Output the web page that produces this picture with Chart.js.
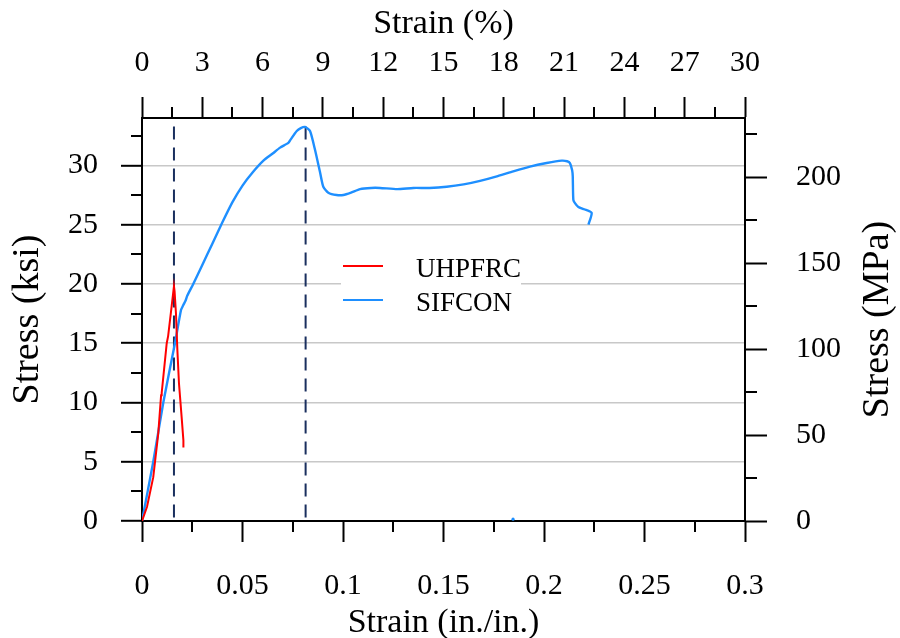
<!DOCTYPE html>
<html><head><meta charset="utf-8">
<script src="https://cdn.jsdelivr.net/npm/chart.js@4"></script>
<style>html,body{margin:0;padding:0;background:#fff}#wrap{width:900px;height:638px;position:relative}</style>
</head><body><div id="wrap"><canvas id="c"></canvas></div>
<script>
// ---- data (strain in in./in., stress in ksi) ----
const seriesLabels = ['UHPFRC', 'SIFCON'];
const uhpfrcStrain = [0, 0.0025, 0.0056, 0.0081, 0.0095, 0.0098, 0.0123, 0.0130, 0.0148, 0.0159, 0.0162, 0.0169, 0.0176, 0.0184, 0.0197, 0.0206, 0.0206];
const uhpfrcStress = [0, 1.2, 3.7, 7.4, 10.6, 10.8, 15.0, 15.6, 18.2, 19.8, 19.4, 17.5, 14.4, 11.6, 8.8, 6.8, 6.2];
const sifconStrain = [0, 0.0056, 0.0106, 0.0164, 0.0194, 0.0205, 0.0217, 0.0225, 0.0255, 0.0300, 0.0350, 0.0400, 0.0450, 0.0500, 0.0550, 0.0604, 0.0650, 0.0687, 0.0728, 0.0740, 0.0770, 0.0790, 0.0811, 0.0836, 0.0861, 0.0886, 0.0902, 0.0927, 0.0968, 0.1002, 0.1040, 0.1085, 0.1140, 0.1184, 0.1270, 0.1350, 0.1430, 0.1516, 0.1600, 0.1682, 0.1770, 0.1847, 0.1930, 0.2013, 0.2088, 0.2115, 0.2129, 0.2140, 0.2143, 0.2146, 0.2155, 0.2171, 0.2200, 0.2237, 0.2221];
const sifconStress = [0, 5.0, 10.0, 15.0, 17.8, 18.2, 18.6, 19.0, 20.0, 21.6, 23.4, 25.2, 26.9, 28.3, 29.4, 30.4, 31.0, 31.5, 31.9, 32.2, 32.9, 33.15, 33.25, 32.9, 31.3, 29.4, 28.2, 27.7, 27.5, 27.5, 27.7, 28.0, 28.1, 28.1, 28.0, 28.1, 28.1, 28.2, 28.4, 28.7, 29.1, 29.5, 29.9, 30.2, 30.4, 30.35, 30.2, 29.6, 29.1, 27.1, 26.8, 26.5, 26.3, 26.0, 25.0];
const strayStrain = [0.1846];
const strayStress = [0.15];
const peakStrains = [0.0159, 0.0814];
const peakLineStress = [0.3, 33.9];
const bottomTickLabels = ['0', '0.05', '0.1', '0.15', '0.2', '0.25', '0.3'];
const topTickLabels = ['0', '3', '6', '9', '12', '15', '18', '21', '24', '27', '30'];
const leftTickLabels = ['0', '5', '10', '15', '20', '25', '30'];
const rightTickLabels = ['0', '50', '100', '150', '200'];
const KSI_TO_MPA = 6.89476;
const yMaxKsi = 34;

const FONT = '"Liberation Serif", "Times New Roman", serif';
const pts = (xs, ys) => xs.map((x, i) => ({x: x, y: ys[i]}));

const datasets = [
  {label: seriesLabels[0], data: pts(uhpfrcStrain, uhpfrcStress), borderColor: '#ff0000', borderWidth: 2, pointRadius: 0, tension: 0, fill: false},
  {label: seriesLabels[1], data: pts(sifconStrain, sifconStress), borderColor: '#1e8fff', borderWidth: 2.4, pointRadius: 0, tension: 0.2, fill: false},
  {label: 'stray', data: pts(strayStrain, strayStress), showLine: false, pointRadius: 1.6, pointBackgroundColor: '#1e8fff', pointBorderWidth: 0, borderColor: '#1e8fff'}
];
peakStrains.forEach(function (s) {
  datasets.push({label: 'peak', data: pts([s, s], peakLineStress), borderColor: '#1a2f5e', borderWidth: 2, borderDash: [13, 8], pointRadius: 0, fill: false});
});

const tickFont = {family: FONT, size: 30};
const blackGrid = {drawOnChartArea: false, drawTicks: true, tickLength: 21, tickColor: '#000', tickWidth: 2, color: '#000'};
const blackBorder = {display: true, color: '#000', width: 2};

const extras = {
  id: 'extras',
  beforeDatasetsDraw(chart) {
    const ctx = chart.ctx;
    ctx.save();
    ctx.fillStyle = '#fff';
    ctx.fillRect(341, 250, 180, 66);
    ctx.restore();
  },
  afterDatasetsDraw(chart) {
    const ctx = chart.ctx;
    const s = chart.scales;
    const a = chart.chartArea;
    ctx.save();
    ctx.strokeStyle = '#000';
    ctx.lineWidth = 2;
    ctx.beginPath();
    for (let v = 0.025; v < 0.3; v += 0.05) { const p = Math.round(s.x.getPixelForValue(v)); ctx.moveTo(p, a.bottom); ctx.lineTo(p, a.bottom + 11); }
    for (let v = 1.5; v < 30; v += 3) { const p = Math.round(s.x2.getPixelForValue(v)); ctx.moveTo(p, a.top); ctx.lineTo(p, a.top - 11); }
    for (let v = 2.5; v < yMaxKsi; v += 5) { const p = Math.round(s.y.getPixelForValue(v)); ctx.moveTo(a.left, p); ctx.lineTo(a.left - 11, p); }
    for (let v = 25; v < yMaxKsi * KSI_TO_MPA; v += 50) { const p = Math.round(s.y2.getPixelForValue(v)); ctx.moveTo(a.right, p); ctx.lineTo(a.right + 12, p); }
    ctx.stroke();
    // legend
    [0, 1].forEach(function (i) {
      const ds = chart.data.datasets[i];
      const y = 266 + i * 34;
      ctx.strokeStyle = ds.borderColor;
      ctx.lineWidth = 2;
      ctx.beginPath(); ctx.moveTo(343, y); ctx.lineTo(383, y); ctx.stroke();
      ctx.fillStyle = '#000';
      ctx.font = '27px ' + FONT;
      ctx.textAlign = 'left';
      ctx.textBaseline = 'alphabetic';
      ctx.fillText(ds.label, 416, y + 11);
    });
    // right axis title, reading bottom-to-top
    ctx.translate(878, (a.top + a.bottom) / 2);
    ctx.rotate(-Math.PI / 2);
    ctx.font = '38px ' + FONT;
    ctx.textAlign = 'center';
    ctx.textBaseline = 'middle';
    ctx.fillStyle = '#000';
    ctx.fillText('Stress (MPa)', 0, 0);
    ctx.restore();
  }
};

new Chart(document.getElementById('c'), {
  type: 'line',
  data: {datasets: datasets},
  options: {
    responsive: true,
    maintainAspectRatio: false,
    animation: false,
    layout: {padding: 0},
    plugins: {legend: {display: false}, tooltip: {enabled: false}},
    scales: {
      x: {
        type: 'linear', position: 'bottom', min: 0, max: 0.3,
        ticks: {stepSize: 0.05, includeBounds: false, autoSkip: false, maxRotation: 0, padding: 26, color: '#000', font: tickFont,
          callback: (v, i) => bottomTickLabels[i]},
        grid: blackGrid, border: blackBorder,
        title: {display: true, text: 'Strain (in./in.)', color: '#000', font: {family: FONT, size: 34, lineHeight: 1}, padding: {top: 0, bottom: -2}},
        afterFit(sc) { sc.height = 117; }
      },
      x2: {
        type: 'linear', position: 'top', min: 0, max: 30,
        ticks: {stepSize: 3, includeBounds: false, autoSkip: false, maxRotation: 0, padding: 16, color: '#000', font: tickFont,
          callback: (v, i) => topTickLabels[i]},
        grid: blackGrid, border: blackBorder,
        title: {display: true, text: 'Strain (%)', color: '#000', font: {family: FONT, size: 34, lineHeight: 1}, padding: {top: 7, bottom: 0}},
        afterFit(sc) { sc.height = 118; }
      },
      y: {
        type: 'linear', position: 'left', min: 0, max: yMaxKsi,
        ticks: {stepSize: 5, includeBounds: false, autoSkip: false, padding: 23, color: '#000', font: tickFont,
          callback: (v, i) => leftTickLabels[i]},
        grid: {drawOnChartArea: true, drawTicks: true, tickLength: 21, tickColor: '#000', tickWidth: 2, lineWidth: 1.6,
          color: c => (c.tick && c.tick.value === 0) ? 'rgba(0,0,0,0)' : '#c8c8c8'},
        border: blackBorder,
        title: {display: true, text: 'Stress (ksi)', color: '#000', font: {family: FONT, size: 38, lineHeight: 1}, padding: {top: 9, bottom: 0}},
        afterFit(sc) { sc.width = 142; }
      },
      y2: {
        type: 'linear', position: 'right', min: 0, max: yMaxKsi * KSI_TO_MPA,
        ticks: {stepSize: 50, includeBounds: false, autoSkip: false, padding: 29, color: '#000', font: tickFont,
          callback: (v, i) => rightTickLabels[i]},
        grid: {drawOnChartArea: false, drawTicks: true, tickLength: 22, tickColor: '#000', tickWidth: 2, color: '#000'},
        border: blackBorder,
        title: {display: false},
        afterFit(sc) { sc.width = 155; }
      }
    }
  },
  plugins: [extras]
});
</script></body></html>
